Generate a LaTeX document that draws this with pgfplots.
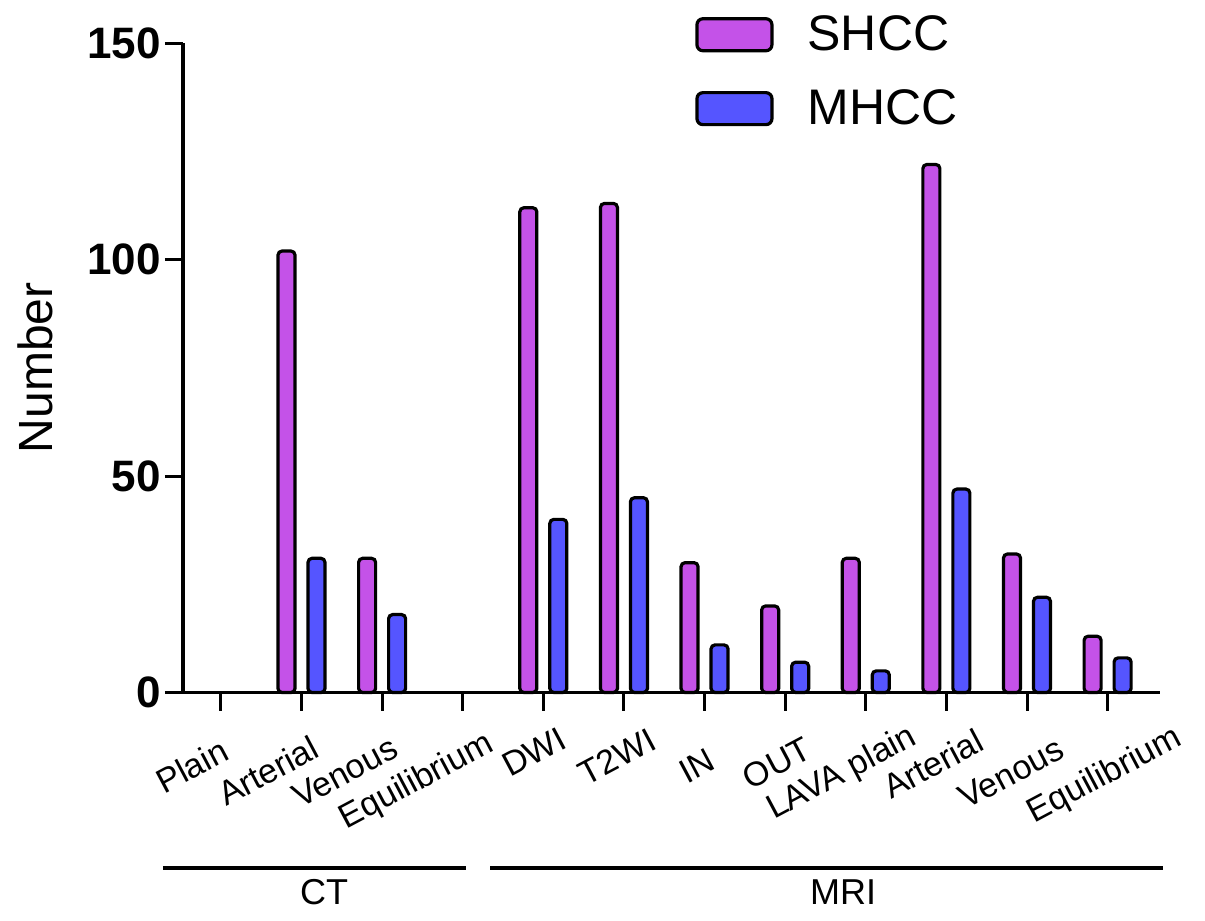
\documentclass[border=0pt]{standalone}
\usepackage{pgfplots}
\pgfplotsset{compat=1.18}
\usepackage{fontspec}
\setmainfont{Liberation Sans}
\definecolor{shcc}{RGB}{196,82,232}
\definecolor{mhcc}{RGB}{85,85,255}
\begin{document}
\begin{tikzpicture}
\useasboundingbox (0,0) rectangle (602.5pt,460.5pt);
\begin{axis}[
  at={(91.5pt,114.25pt)}, anchor=south west,
  scale only axis, width=488.5pt, height=324.6pt,
  xmin=-0.47, xmax=11.65, ymin=0, ymax=150,
  clip=false,
  axis x line*=bottom, axis y line*=left,
  axis line style={line width=1.6pt},
  x axis line style={shorten <=-8.5pt},
  xtick={0,...,11}, xticklabels={},
  ytick={0,50,100,150},
  tick style={line width=1.5pt, black},
  major tick length=9pt, tick align=outside,
  /pgf/number format/assume math mode=true,
  yticklabel style={font=\fontsize{22}{26}\selectfont\bfseries, inner sep=2pt},
  ylabel={Number},
  ylabel style={font=\fontsize{24}{28}\selectfont, at={(axis description cs:-0.1515,0.5)}, anchor=center},
  legend style={at={(axis description cs:0.524,1.043)}, anchor=north west, draw=none, fill=none,
    inner sep=0pt, font=\fontsize{25}{30}\selectfont, row sep=18pt,
    nodes={inner sep=0pt, anchor=west},
    /tikz/every odd column/.append style={column sep=17pt}},
  legend image code/.code={\draw[#1, rounded corners=3pt] (0pt,-8pt) rectangle (37.5pt,8pt);},
]
\addplot[ybar, bar width=8.5pt, bar shift=-7.5pt, fill=shcc, draw=black, line width=1.6pt, rounded corners=2pt]
  coordinates {(1,102) (2,31) (4,112) (5,113) (6,30) (7,20) (8,31) (9,122) (10,32) (11,13)};
\addplot[ybar, bar width=8.5pt, bar shift=7.5pt, fill=mhcc, draw=black, line width=1.6pt, rounded corners=2pt]
  coordinates {(1,31) (2,18) (4,40) (5,45) (6,11) (7,7) (8,5) (9,47) (10,22) (11,8)};
\legend{SHCC,MHCC}
\tikzset{catlab/.style={rotate=28, font=\fontsize{17}{20}\selectfont, inner sep=0pt}}
\node[catlab] at (axis cs:-0.36,-17.0) {Plain};
\node[catlab] at (axis cs:0.583,-18.1) {Arterial};
\node[catlab] at (axis cs:1.538,-18.4) {Venous};
\node[catlab] at (axis cs:2.432,-20.7) {Equilibrium};
\node[catlab] at (axis cs:3.883,-13.7) {DWI};
\node[catlab] at (axis cs:4.913,-14.9) {T2WI};
\node[catlab] at (axis cs:5.906,-17.0) {IN};
\node[catlab] at (axis cs:6.898,-16.3) {OUT};
\node[catlab] at (axis cs:7.705,-18.8) {LAVA plain};
\node[catlab] at (axis cs:8.834,-16.5) {Arterial};
\node[catlab] at (axis cs:9.801,-18.6) {Venous};
\node[catlab] at (axis cs:10.968,-19.3) {Equilibrium};
\draw[line width=2.2pt] (axis cs:-0.72,-40.5) -- (axis cs:3.04,-40.5);
\draw[line width=2.2pt] (axis cs:3.34,-40.5) -- (axis cs:11.69,-40.5);
\node[font=\fontsize{18}{22}\selectfont] at (axis cs:1.28,-46.1) {CT};
\node[font=\fontsize{18}{22}\selectfont] at (axis cs:7.72,-46.1) {MRI};
\end{axis}
\end{tikzpicture}
\end{document}
